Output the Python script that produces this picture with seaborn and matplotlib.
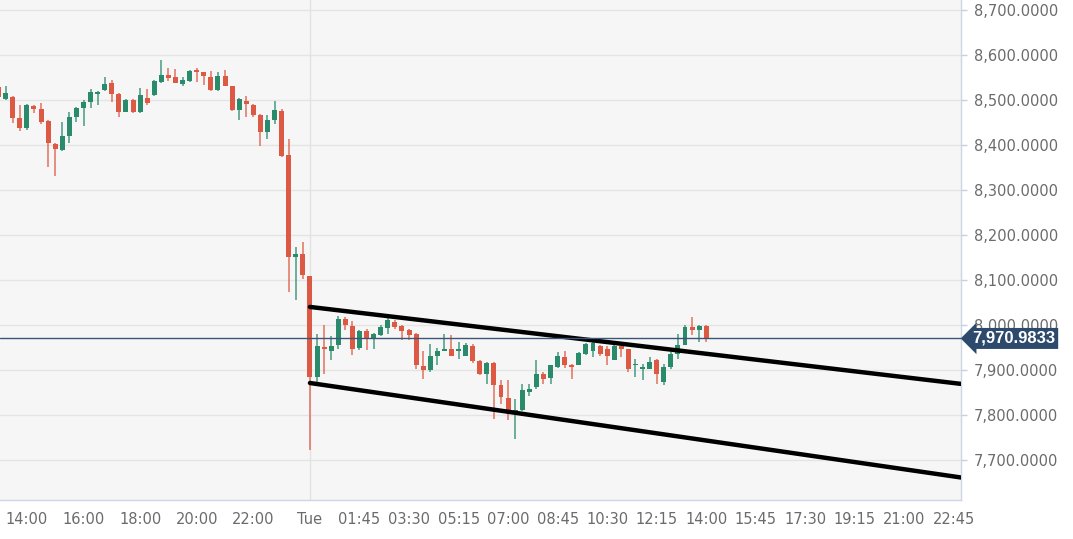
import numpy as np
import pandas as pd
import seaborn as sns
import matplotlib.pyplot as plt
import matplotlib.transforms as mtransforms

# 15-minute candles, time in hours relative to Tue 00:00 (first candle Mon 13:00)
start_hour = -11.0
candle_step = 0.25

opens = [8530, 8503, 8508, 8460, 8438, 8488, 8480, 8454, 8403, 8389,
         8421, 8464, 8483, 8497, 8515, 8522, 8538, 8514, 8475, 8501,
         8475, 8505, 8512, 8541, 8557, 8551, 8537, 8543, 8567, 8562,
         8552, 8522, 8554, 8532, 8478, 8499, 8490, 8468, 8429, 8456,
         8477, 8379, 8152, 8159, 8109, 7885, 7953, 7944, 7956, 8015,
         7998, 7950, 7987, 7972, 7979, 7994, 8007, 7998, 7989, 7981,
         7910, 7900, 7933, 7942, 7947, 7944, 7933, 7954, 7920, 7893,
         7917, 7867, 7839, 7807, 7811, 7852, 7863, 7893, 7883, 7907,
         7930, 7913, 7913, 7937, 7944, 7955, 7948, 7924, 7954, 7947,
         7911, 7904, 7904, 7922, 7874, 7907, 7937, 7957, 7996, 7989,
         7999]
highs = [8533, 8532, 8510, 8490, 8492, 8490, 8495, 8456, 8405, 8453,
         8475, 8485, 8500, 8525, 8521, 8551, 8546, 8516, 8503, 8503,
         8527, 8525, 8545, 8590, 8572, 8570, 8552, 8568, 8573, 8563,
         8566, 8562, 8567, 8533, 8505, 8509, 8492, 8470, 8467, 8499,
         8480, 8415, 8174, 8185, 8110, 7981, 8000, 7976, 8020, 8018,
         8010, 7990, 7991, 7982, 8000, 8019, 8011, 8001, 7993, 7982,
         7944, 7959, 7950, 7981, 7978, 7964, 7960, 7959, 7922, 7919,
         7919, 7878, 7878, 7837, 7870, 7870, 7922, 7896, 7913, 7941,
         7944, 7914, 7941, 7961, 7963, 7957, 7955, 7958, 7955, 7948,
         7926, 7915, 7930, 7926, 7915, 7941, 7981, 8000, 8019, 8000,
         8001]
lows = [8505, 8501, 8449, 8433, 8434, 8471, 8448, 8351, 8331, 8388,
        8405, 8453, 8443, 8483, 8490, 8520, 8497, 8464, 8474, 8473,
        8473, 8490, 8510, 8539, 8543, 8538, 8532, 8541, 8541, 8535,
        8520, 8520, 8531, 8476, 8456, 8463, 8463, 8398, 8415, 8448,
        8374, 8074, 8056, 8104, 7722, 7870, 7893, 7924, 7948, 7989,
        7935, 7946, 7946, 7948, 7976, 7981, 7993, 7967, 7967, 7904,
        7880, 7896, 7911, 7942, 7932, 7926, 7932, 7917, 7889, 7870,
        7793, 7826, 7789, 7748, 7809, 7843, 7859, 7870, 7870, 7905,
        7905, 7881, 7911, 7935, 7930, 7933, 7911, 7922, 7930, 7896,
        7885, 7878, 7902, 7870, 7867, 7904, 7926, 7956, 7978, 7963,
        7963]
closes = [8507, 8516, 8460, 8438, 8490, 8480, 8453, 8405, 8391, 8420,
          8464, 8483, 8497, 8518, 8518, 8537, 8514, 8475, 8501, 8475,
          8512, 8494, 8542, 8557, 8549, 8539, 8545, 8566, 8562, 8554,
          8522, 8554, 8532, 8478, 8503, 8491, 8468, 8429, 8456, 8478,
          8377, 8152, 8159, 8111, 7885, 7955, 7948, 7955, 8015, 8000,
          7947, 7987, 7972, 7981, 7996, 8013, 7996, 7987, 7979, 7911,
          7900, 7933, 7944, 7948, 7933, 7947, 7957, 7920, 7893, 7917,
          7868, 7841, 7807, 7811, 7856, 7859, 7893, 7881, 7911, 7932,
          7913, 7907, 7939, 7959, 7961, 7937, 7933, 7954, 7948, 7902,
          7915, 7907, 7919, 7893, 7907, 7937, 7956, 7996, 7989, 7999,
          7971]

last_price = 7970.9833

# drawn channel (hours, price)
channel_hours = [0.0, 23.0]
upper_channel = [8041, 7870]
lower_channel = [7872, 7662]

tick_hours = [-10, -8, -6, -4, -2, 0, 1.75, 3.5, 5.25, 7, 8.75, 10.5,
              12.25, 14, 15.75, 17.5, 19.25, 21, 22.75]
tick_labels = ["14:00", "16:00", "18:00", "20:00", "22:00", "Tue", "01:45",
               "03:30", "05:15", "07:00", "08:45", "10:30", "12:15", "14:00",
               "15:45", "17:30", "19:15", "21:00", "22:45"]
price_ticks = [7700, 7800, 7900, 8000, 8100, 8200, 8300, 8400, 8500, 8600, 8700]

df = pd.DataFrame({"open": opens, "high": highs, "low": lows, "close": closes})
df["hour"] = start_hour + candle_step * np.arange(len(df))
df["up"] = df["close"] >= df["open"]

sns.set_style("white")
plt.rcParams["font.family"] = ["DejaVu Sans"]

GREEN = "#2a8a6c"
RED = "#dc5a44"

fig = plt.figure(figsize=(10.73, 5.39), dpi=100)
ax = fig.add_axes([0, 1 - 500 / 539, 961 / 1073, 500 / 539])
ax.set_facecolor("#f6f6f6")

# grid
for p in price_ticks:
    ax.axhline(p, color="#e4e4e4", lw=1, zorder=0)
ax.axvline(0, color="#e2e2e2", lw=1, zorder=0)

# candles
colors = np.where(df["up"], GREEN, RED)
ax.vlines(df["hour"], df["low"], df["high"], colors=colors, lw=1.1, alpha=0.85, zorder=2)
body_low = df[["open", "close"]].min(axis=1)
body_h = (df["close"] - df["open"]).abs().clip(lower=2)
ax.bar(df["hour"], body_h, bottom=body_low, width=0.175, color=colors, zorder=3, linewidth=0)

# channel lines
ch = pd.DataFrame({"hour": channel_hours * 2,
                   "price": upper_channel + lower_channel,
                   "line": ["upper", "upper", "lower", "lower"]})
sns.lineplot(data=ch, x="hour", y="price", units="line", estimator=None,
             color="black", lw=3.2, ax=ax, zorder=4, legend=False)

# last price line + label
ax.axhline(last_price, color="#3b5478", lw=1, zorder=5)
trans = mtransforms.blended_transform_factory(ax.transAxes, ax.transData)
ax.text(1.0115, last_price, f"{last_price:,.4f}", transform=trans,
        ha="left", va="center", color="white", fontsize=12, fontweight="bold",
        family=["Liberation Sans", "DejaVu Sans"],
        bbox=dict(boxstyle="larrow,pad=0.18", fc="#2d4a6c", ec="none"),
        clip_on=False, zorder=6)

ax.set_xlim(-10.95, 23.0)
ax.set_ylim(7612, 8723)
ax.set_xticks(tick_hours)
ax.set_xticklabels(tick_labels)
ax.set_yticks(price_ticks)
ax.set_yticklabels([f"{p:,.4f}" for p in price_ticks])
ax.yaxis.tick_right()
ax.set_xlabel("")
ax.set_ylabel("")
ax.tick_params(axis="both", colors="#c6cfdc", labelcolor="#6b6b6b", labelsize=10.5,
               direction="out", length=4, width=1)
ax.tick_params(axis="y", pad=5)
ax.tick_params(axis="x", pad=5)

for side in ["top", "left"]:
    ax.spines[side].set_visible(False)
for side in ["right", "bottom"]:
    ax.spines[side].set_color("#cdd6e4")
    ax.spines[side].set_linewidth(1)

fig.savefig("out.png", dpi=100, facecolor="white")
